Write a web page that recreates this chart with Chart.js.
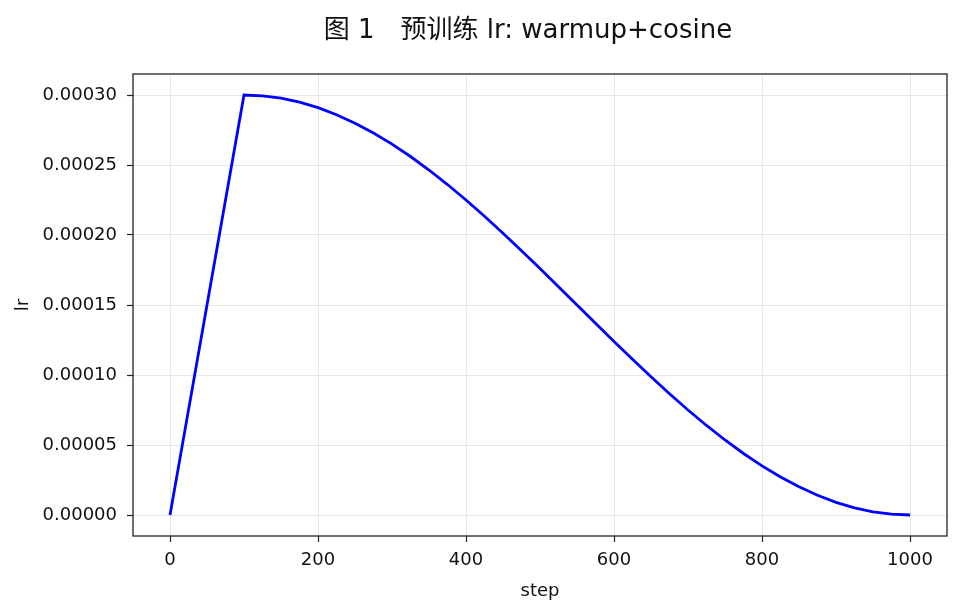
<!DOCTYPE html>
<html>
<head>
<meta charset="utf-8">
<script src="https://cdn.jsdelivr.net/npm/chart.js@4"></script>
<style>
  html, body { margin: 0; padding: 0; background: #fff; }
  #wrap { width: 961px; height: 614px; position: relative; }
</style>
</head>
<body>
<div id="wrap"><canvas id="c"></canvas></div>
<script>
// Curva de lr: warmup lineal hasta 100, luego coseno hasta 1000
const steps = [0, 50, 100, 125, 150, 175, 200, 225, 250, 275, 300, 325, 350, 375, 400, 425, 450, 475, 500,
  525, 550, 575, 600, 625, 650, 675, 700, 725, 750, 775, 800, 825, 850, 875, 900, 925, 950, 975, 1000];
const lr = [0, 1.5e-4, 3.0e-4, 2.9943e-4, 2.9772e-4, 2.9489e-4, 2.9095e-4, 2.8595e-4, 2.7990e-4, 2.7287e-4,
  2.6491e-4, 2.5607e-4, 2.4642e-4, 2.3604e-4, 2.25e-4, 2.1339e-4, 2.0130e-4, 1.8882e-4, 1.7605e-4,
  1.6307e-4, 1.5e-4, 1.3693e-4, 1.2395e-4, 1.1118e-4, 0.9870e-4, 0.8661e-4, 0.75e-4, 0.6396e-4, 0.5358e-4,
  0.4393e-4, 0.3509e-4, 0.2713e-4, 0.2010e-4, 0.1405e-4, 0.0905e-4, 0.0511e-4, 0.0228e-4, 0.0057e-4, 0];
const xTicks = [0, 200, 400, 600, 800, 1000];
const yTicks = [0, 0.00005, 0.0001, 0.00015, 0.0002, 0.00025, 0.0003];
const TITLE = "图 1　预训练 lr: warmup+cosine";

const FONT = "'DejaVu Sans', 'Noto Sans CJK SC', sans-serif";
const INK = "#111";
const GRID = "#e6e6e6";

// marco negro alrededor del area y titulo centrado sobre el grafico
const frame = {
  id: "frame",
  afterDraw(chart) {
    const a = chart.chartArea, ctx = chart.ctx;
    ctx.save();
    ctx.strokeStyle = "#222";
    ctx.lineWidth = 1.3;
    ctx.strokeRect(a.left, a.top, a.right - a.left, a.bottom - a.top);
    ctx.fillStyle = INK;
    ctx.font = "26px " + FONT;
    ctx.textAlign = "center";
    ctx.textBaseline = "middle";
    ctx.fillText(TITLE, 528, 31);
    ctx.restore();
  },
};

new Chart(document.getElementById("c"), {
  type: "line",
  data: {
    datasets: [{
      data: steps.map((s, i) => ({ x: s, y: lr[i] })),
      borderColor: "#0000ff",
      borderWidth: 2.8,
      pointRadius: 0,
      tension: 0,
      fill: false,
    }],
  },
  options: {
    animation: false,
    responsive: true,
    maintainAspectRatio: false,
    layout: { padding: { left: 0, right: 14, top: 74, bottom: 0 } },
    plugins: {
      legend: { display: false },
      tooltip: { enabled: false },
      title: { display: false },
    },
    scales: {
      x: {
        type: "linear",
        min: -50,
        max: 1050,
        afterBuildTicks: (s) => { s.ticks = xTicks.map((v) => ({ value: v })); },
        afterFit: (s) => { s.height = 78; },
        ticks: { color: INK, font: { family: FONT, size: 18 }, padding: 8, maxRotation: 0, callback: (v) => String(v) },
        grid: { color: GRID, lineWidth: 1, tickLength: 6, tickColor: "#222", tickWidth: 1.2 },
        border: { display: false },
        title: { display: true, text: "step", color: INK, font: { family: FONT, size: 18, lineHeight: 1.2 }, padding: { bottom: 12 } },
      },
      y: {
        min: -0.000015,
        max: 0.000315,
        afterBuildTicks: (s) => { s.ticks = yTicks.map((v) => ({ value: v })); },
        afterFit: (s) => { s.width = 133; },
        ticks: { color: INK, font: { family: FONT, size: 18 }, padding: 10, callback: (v) => v.toFixed(5) },
        grid: { color: GRID, lineWidth: 1, tickLength: 6, tickColor: "#222", tickWidth: 1.2 },
        border: { display: false },
        title: { display: true, text: "lr", color: INK, font: { family: FONT, size: 18, lineHeight: 1.2 }, padding: { top: 13 } },
      },
    },
  },
  plugins: [frame],
});
</script>
</body>
</html>
